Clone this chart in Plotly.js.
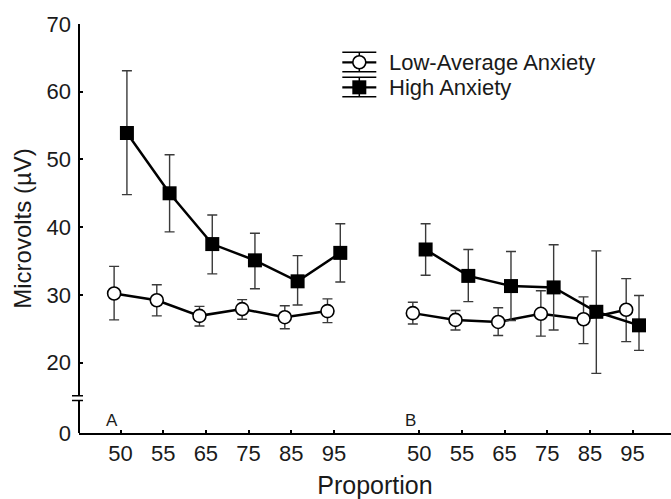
<!DOCTYPE html>
<html><head><meta charset="utf-8">
<script src="https://cdn.plot.ly/plotly-3.0.1.min.js"></script>
<style>html,body{margin:0;padding:0;background:#fff}#chart{width:671px;height:499px}</style>
</head><body><div id="chart"></div>
<script>
// ---- data ----
const conditions = ['A', 'B'];
const proportions = ['50', '55', '65', '75', '85', '95'];
const lowA  = [30.2, 29.2, 26.9, 27.9, 26.7, 27.6];
const lowAUp = [4.0, 2.3, 1.4, 1.4, 1.7, 1.8];
const lowADn = [3.9, 2.3, 1.5, 1.5, 1.7, 1.7];
const lowB  = [27.3, 26.3, 26.0, 27.2, 26.4, 27.8];
const lowBUp = [1.6, 1.4, 2.1, 3.4, 3.3, 4.6];
const lowBDn = [1.6, 1.5, 2.0, 3.3, 3.6, 4.7];
const highA = [53.9, 45.0, 37.5, 35.1, 32.0, 36.2];
const highAUp = [9.2, 5.7, 4.3, 4.0, 3.8, 4.3];
const highADn = [9.1, 5.7, 4.4, 4.2, 3.5, 4.3];
const highB = [36.7, 32.8, 31.3, 31.1, 27.5, 25.5];
const highBUp = [3.8, 3.9, 5.1, 6.3, 9.0, 4.4];
const highBDn = [3.8, 3.8, 5.1, 6.3, 9.1, 3.7];
const yTickVals = [9.6, 20, 30, 40, 50, 60, 70];
const yTickText = ['0', '20', '30', '40', '50', '60', '70'];
const seriesNames = ['Low-Average Anxiety', 'High Anxiety'];

const font = 'Arial, "Liberation Sans", sans-serif';
const errStyle = {type: 'data', symmetric: false, color: '#3a3a3a', thickness: 1.4, width: 5};

const series = [
  {name: seriesNames[0], off: -0.15, y: [lowA, lowB], up: [lowAUp, lowBUp], dn: [lowADn, lowBDn],
   marker: {symbol: 'circle', size: 13, color: '#fff', line: {color: '#000', width: 1.6}}},
  {name: seriesNames[1], off: 0.15, y: [highA, highB], up: [highAUp, highBUp], dn: [highADn, highBDn],
   marker: {symbol: 'square', size: 14, color: '#000', line: {color: '#000', width: 0}}}
];

const traces = [];
const tickVals = [], tickText = [];
conditions.forEach((c, g) => proportions.forEach((p, i) => { tickVals.push(g * 7 + i); tickText.push(p); }));
series.forEach(s => {
  conditions.forEach((c, g) => {
    traces.push({
      name: s.name, type: 'scatter', mode: 'lines+markers', showlegend: false,
      x: proportions.map((p, i) => g * 7 + i + s.off),
      y: s.y[g],
      line: {color: '#000', width: 2.5},
      marker: s.marker,
      error_y: Object.assign({array: s.up[g], arrayminus: s.dn[g]}, errStyle)
    });
  });
});

// ---- custom legend (symbols drawn as shapes in pixel units) ----
const legX = 0.4735, legTextX = 0.5203, legY = [0.9064, 0.8452];
const P = (o) => Object.assign({xref: 'paper', yref: 'paper', xsizemode: 'pixel', ysizemode: 'pixel'}, o);
const legendShapes = [];
legY.forEach((yy, k) => {
  const base = {xanchor: legX, yanchor: yy};
  legendShapes.push(P(Object.assign({type: 'line', x0: -17, x1: 17, y0: 0, y1: 0, line: {color: '#000', width: 2.2}}, base)));
  legendShapes.push(P(Object.assign({type: 'line', x0: -17, x1: 17, y0: 10, y1: 10, line: {color: '#000', width: 1.5}}, base)));
  legendShapes.push(P(Object.assign({type: 'line', x0: -17, x1: 17, y0: -9.5, y1: -9.5, line: {color: '#000', width: 1.5}}, base)));
  legendShapes.push(P(Object.assign({type: 'line', x0: 0, x1: 0, y0: -9.5, y1: 10, line: {color: '#000', width: 1.5}}, base)));
  if (k === 0) {
    legendShapes.push(P(Object.assign({type: 'circle', x0: -6.5, x1: 6.5, y0: -6.5, y1: 6.5, fillcolor: '#fff', line: {color: '#000', width: 1.6}}, base)));
  } else {
    legendShapes.push(P(Object.assign({type: 'rect', x0: -7, x1: 7, y0: -7, y1: 7, fillcolor: '#000', line: {color: '#000', width: 0}}, base)));
  }
});

const layout = {
  width: 671, height: 499,
  margin: {l: 79, r: 0, t: 24, b: 66},
  paper_bgcolor: '#fff', plot_bgcolor: '#fff',
  font: {family: font, size: 22, color: '#1a1a1a'},
  showlegend: false,
  xaxis: {
    automargin: false,
    range: [-0.973, 12.9], tickmode: 'array', tickvals: tickVals, ticktext: tickText,
    ticks: 'inside', ticklen: 3, tickwidth: 2, tickcolor: '#000',
    showline: true, linecolor: '#000', linewidth: 2, showgrid: false, zeroline: false,
    tickfont: {size: 22, color: '#1a1a1a'},
    title: {text: 'Proportion', font: {size: 25, color: '#1a1a1a'}, standoff: 11}
  },
  yaxis: {
    automargin: false,
    range: [9.6, 70], tickmode: 'array', tickvals: yTickVals, ticktext: yTickText,
    ticks: 'inside', ticklen: 4, tickwidth: 2, tickcolor: '#000',
    showline: false, showgrid: false, zeroline: false,
    ticklabelstandoff: 7,
    tickfont: {size: 22, color: '#1a1a1a'},
    title: {text: 'Microvolts (µV)', font: {size: 24, color: '#1a1a1a'}, standoff: 8}
  },
  shapes: [
    {type: 'line', xref: 'paper', yref: 'y', x0: 0, x1: 0, y0: 70, y1: 15.1, line: {color: '#000', width: 2}},
    {type: 'line', xref: 'paper', yref: 'y', x0: 0, x1: 0, y0: 14.4, y1: 9.6, line: {color: '#000', width: 2}},
    {type: 'line', xref: 'paper', yref: 'y', xsizemode: 'pixel', xanchor: 0, x0: -7, x1: 4, y0: 15.1, y1: 15.1, line: {color: '#000', width: 1.5}},
    {type: 'line', xref: 'paper', yref: 'y', xsizemode: 'pixel', xanchor: 0, x0: -7, x1: 4, y0: 14.4, y1: 14.4, line: {color: '#000', width: 1.5}}
  ].concat(legendShapes),
  annotations: conditions.map((c, g) => ({
    text: c, xref: 'x', yref: 'paper', x: g * 7, y: 0, xanchor: 'right', yanchor: 'bottom',
    xshift: -1, yshift: 1, showarrow: false, font: {size: 17, color: '#1a1a1a'}
  })).concat(seriesNames.map((n, k) => ({
    text: n, xref: 'paper', yref: 'paper', x: legTextX, y: legY[k], xanchor: 'left', yanchor: 'middle',
    showarrow: false, font: {size: 22, color: '#1a1a1a'}
  })))
};

Plotly.newPlot('chart', traces, layout, {displayModeBar: false, staticPlot: true});
</script></body></html>
